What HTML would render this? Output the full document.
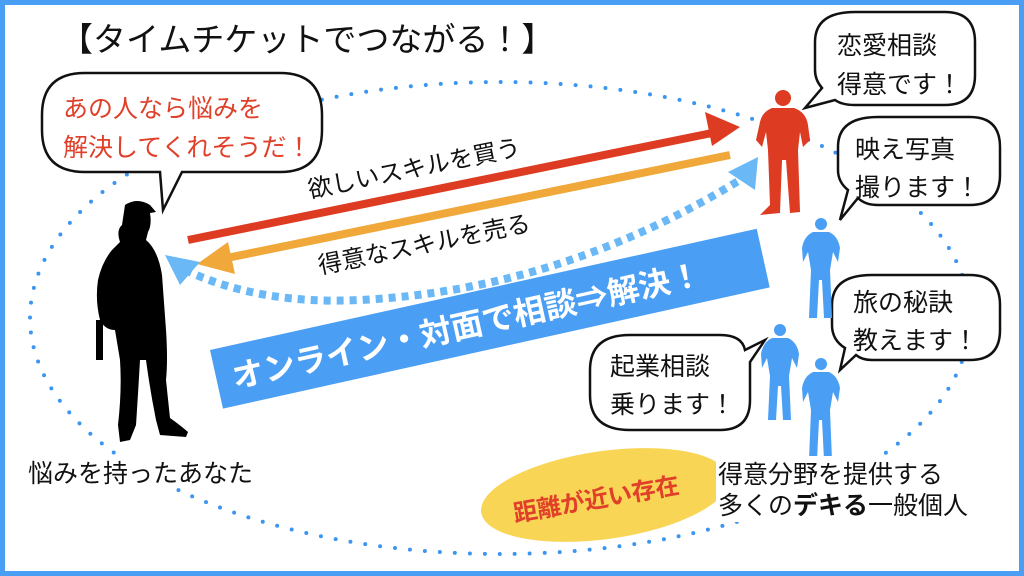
<!DOCTYPE html>
<html><head><meta charset="utf-8"><style>
html,body{margin:0;padding:0;background:#fff}
svg{display:block}
text{font-family:"Liberation Sans","Noto Sans CJK JP",sans-serif}
</style></head><body>
<svg width="1024" height="576" viewBox="0 0 1024 576" xmlns="http://www.w3.org/2000/svg">
<rect x="0" y="0" width="1024" height="576" fill="#fff"/>
<rect x="2.5" y="2.5" width="1019" height="571" fill="none" stroke="#4a9ff5" stroke-width="5"/>
<ellipse cx="500" cy="318" rx="470" ry="236" fill="none" stroke="#3c96f0" stroke-width="4" stroke-linecap="round" stroke-dasharray="0 15"/>
<text x="60" y="51" font-size="33" fill="#111">【タイムチケットでつながる！】</text>

<path d="M85,73 H280 Q322,73 322,115 V130 Q322,172 280,172 H182 L163,210 L160,172 H85 Q42,172 42,130 V115 Q42,73 85,73 Z" fill="#fff" stroke="#111" stroke-width="2.5"/>
<text x="63" y="117" font-size="25" fill="#e0402a">あの人なら悩みを</text>
<text x="63" y="156" font-size="25" fill="#e0402a">解決してくれそうだ！</text>

<path d="M855,12 H945 Q975,12 975,42 V75 Q975,105 945,105 H855 Q842,105 835,100 L805,108 L822,88 Q815,80 815,70 V42 Q815,12 855,12 Z" fill="#fff" stroke="#111" stroke-width="2.5"/>
<text x="837" y="54" font-size="25" fill="#111">恋愛相談</text>
<text x="837" y="93" font-size="25" fill="#111">得意です！</text>

<path d="M878,117 H970 Q1000,117 1000,147 V175 Q1000,205 970,205 H878 Q865,205 858,198 L840,220 L848,190 Q838,182 838,170 V147 Q838,117 878,117 Z" fill="#fff" stroke="#111" stroke-width="2.5"/>
<text x="855" y="158" font-size="25" fill="#111">映え写真</text>
<text x="855" y="196" font-size="25" fill="#111">撮ります！</text>

<path d="M872,275 H970 Q1000,275 1000,305 V330 Q1000,360 970,360 H872 Q862,360 856,355 L840,370 L845,348 Q832,340 832,325 V305 Q832,275 872,275 Z" fill="#fff" stroke="#111" stroke-width="2.5"/>
<text x="853" y="311" font-size="25" fill="#111">旅の秘訣</text>
<text x="853" y="349" font-size="25" fill="#111">教えます！</text>

<path d="M630,335 H720 Q742,335 745,350 L765,340 L750,362 V400 Q750,430 720,430 H630 Q590,430 590,395 V370 Q590,335 630,335 Z" fill="#fff" stroke="#111" stroke-width="2.5"/>
<text x="610" y="375" font-size="25" fill="#111">起業相談</text>
<text x="610" y="413" font-size="25" fill="#111">乗ります！</text>

<line x1="188" y1="240" x2="712" y2="133" stroke="#dd3b22" stroke-width="8"/>
<polygon points="740,127 705,112 712,146" fill="#dd3b22"/>
<line x1="730" y1="155" x2="222" y2="259" stroke="#f0a83a" stroke-width="8"/>
<polygon points="197,264 228,242 235,274" fill="#f0a83a"/>
<text transform="translate(310,198) rotate(-11.5)" font-size="24" fill="#111">欲しいスキルを買う</text>
<text transform="translate(320,274) rotate(-11.5)" font-size="24" fill="#111">得意なスキルを売る</text>

<path d="M185,270 Q260,305 360,300 Q560,290 740,180" fill="none" stroke="#6ab8f5" stroke-width="8" stroke-dasharray="7 6"/>
<polygon points="165,255 200,262 180,285" fill="#6ab8f5"/>
<polygon points="758,157 728,172 755,190" fill="#6ab8f5"/>

<g transform="translate(210,350) rotate(-12.5)">
<rect x="0" y="0" width="560" height="60" fill="#4a9ff5"/>
<text x="16" y="43" font-size="32" font-weight="bold" fill="#fff">オンライン・対面で相談⇒解決！</text>
</g>

<g fill="#000">
<path d="M125,205 Q137,197 150,205 L156,212 L150,213 Q152,225 148,232 L146,240 Q158,250 162,275 L166,330 Q168,360 166,380 L170,418 Q180,425 188,432 L186,437 L160,435 L156,420 Q150,390 146,360 L140,360 Q138,395 136,425 L130,440 L120,442 L118,425 Q122,390 120,360 L115,330 Q105,330 100,320 Q95,300 98,280 Q102,262 112,250 L120,242 Q116,230 122,225 Z"/>
<rect x="96" y="320" width="7" height="40"/>
</g>

<g fill="#dd3b22">
<circle cx="783" cy="98" r="8"/>
<path d="M772,108 H794 Q806,112 808,125 L810,140 L803,147 L800,132 L798,150 L800,212 L790,213 L786,160 L782,160 L780,213 L760,215 L770,205 L768,150 L766,132 L762,147 L756,140 L760,122 Q762,112 772,108 Z"/>
</g>
<g fill="#4a9ff5">
<circle cx="821" cy="224" r="6"/>
<path d="M813,232 H829 Q838,236 840,248 L838,262 L833,252 L830,270 L832,318 L824,318 L822,280 L819,280 L817,318 L809,318 L811,270 L808,252 L803,262 L802,248 Q804,236 813,232 Z"/>
<circle cx="780" cy="330" r="6"/>
<path d="M772,338 H788 Q797,342 799,354 L797,368 L792,358 L789,376 L791,420 L783,420 L781,386 L778,386 L776,420 L768,420 L770,376 L767,358 L762,368 L761,354 Q763,342 772,338 Z"/>
<circle cx="821" cy="364" r="6"/>
<path d="M813,372 H829 Q838,376 840,388 L838,402 L833,392 L830,410 L832,460 L824,460 L822,420 L819,420 L817,460 L809,460 L811,410 L808,392 L803,402 L802,388 Q804,376 813,372 Z"/>
</g>

<ellipse cx="605" cy="495" rx="125" ry="44" transform="rotate(-8 605 495)" fill="#f8d555"/>
<text transform="translate(515,522) rotate(-10)" font-size="24" font-weight="bold" fill="#e0402a">距離が近い存在</text>

<rect x="716" y="456" width="260" height="66" fill="#fff"/>
<text x="718" y="483" font-size="25" fill="#111">得意分野を提供する</text>
<text x="718" y="514" font-size="25" fill="#111">多くの<tspan font-weight="bold">デキる</tspan>一般個人</text>

<rect x="26" y="456" width="236" height="32" fill="#fff"/>
<text x="28" y="482" font-size="25" fill="#111">悩みを持ったあなた</text>
</svg>
</body></html>
